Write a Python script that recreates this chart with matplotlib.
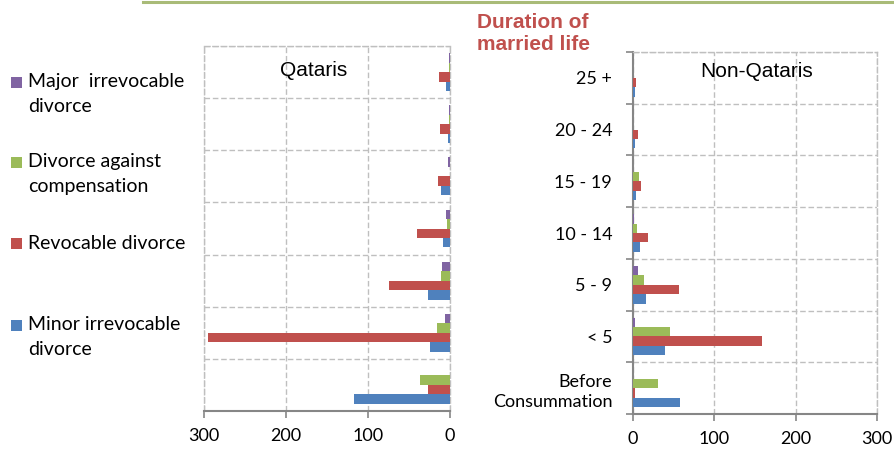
import matplotlib
matplotlib.use("Agg")
import matplotlib.pyplot as plt
from matplotlib.lines import Line2D
from matplotlib.patches import Rectangle
import numpy as np

categories = ["Before\nConsummation", "< 5", "5 - 9", "10 - 14", "15 - 19", "20 - 24", "25 +"]
series_names = ["Minor irrevocable\ndivorce", "Revocable divorce",
                "Divorce against\ncompensation", "Major  irrevocable\ndivorce"]
colors = ["#4F81BD", "#C0504D", "#9BBB59", "#8064A2"]

# Qataris
q_minor = [117, 24, 27, 9, 11, 3, 5]
q_revocable = [27, 295, 75, 40, 15, 12, 13]
q_compensation = [37, 16, 11, 4, 0.6, 1, 1]
q_major = [0, 6, 10, 5, 2, 1, 1]

# Non-Qataris
n_minor = [58, 39, 16, 9, 4, 2.5, 2]
n_revocable = [3, 158, 57, 19, 10, 6, 4]
n_compensation = [31, 45, 13, 4.5, 7, 0.5, 0.5]
n_major = [0, 2.5, 6, 1.5, 0.3, 0.3, 0.3]

qat = [q_minor, q_revocable, q_compensation, q_major]
non = [n_minor, n_revocable, n_compensation, n_major]

FONT = "Lato"
plt.rcParams["font.family"] = [FONT, "DejaVu Sans"]

fig = plt.figure(figsize=(8.94, 4.49), dpi=100)
W, H = 894, 449

def px_axes(l, t, r, b):
    return fig.add_axes([l / W, (H - b) / H, (r - l) / W, (b - t) / H])

axL = px_axes(204, 46, 450, 411)
axR = px_axes(633, 52, 877, 414)

grid_color = "#BFBFBF"
axis_color = "#868686"
dash = (0, (4, 2))
y = np.arange(len(categories))
h = 1 / 5.5
offsets = [-1.5 * h, -0.5 * h, 0.5 * h, 1.5 * h]

for ax, data in ((axL, qat), (axR, non)):
    for vals, off, c in zip(data, offsets, colors):
        ax.barh(y + off, vals, height=h, color=c, edgecolor="none", zorder=3)
    ax.set_ylim(-0.5, len(categories) - 0.5)
    ax.set_xticks([0, 100, 200, 300])
    ax.set_yticks(np.arange(-0.5, len(categories), 1.0))
    ax.set_yticks(y, minor=True)
    ax.grid(True, which="major", color=grid_color, linestyle=dash, linewidth=1.0, zorder=0)
    for s in ("top", "left", "right"):
        ax.spines[s].set_color(grid_color)
        ax.spines[s].set_linestyle(dash)
        ax.spines[s].set_linewidth(1.0)
    ax.spines["bottom"].set_color(axis_color)
    ax.spines["bottom"].set_linewidth(1.5)
    ax.tick_params(axis="x", direction="out", length=5, width=1.2, color=axis_color,
                   labelsize=13, pad=7)
    for lab in ax.get_xticklabels():
        lab.set_fontfamily(FONT)

axL.set_xlim(300, 0)
axR.set_xlim(0, 300)

axL.tick_params(axis="y", which="both", length=0, labelleft=False)
axR.spines["left"].set_color(axis_color)
axR.spines["left"].set_linestyle("-")
axR.spines["left"].set_linewidth(1.5)
axR.tick_params(axis="y", which="major", direction="out", length=5, width=1.2,
                color=axis_color, labelleft=False)
axR.tick_params(axis="y", which="minor", length=0, labelsize=13, pad=15)
axR.set_yticklabels(categories, minor=True, ha="right", fontfamily=FONT, linespacing=1.3)

axL.text(0.447, 0.934, "Qataris", transform=axL.transAxes, ha="center", va="center",
         fontsize=15, fontfamily="Liberation Sans")
axR.text(0.508, 0.945, "Non-Qataris", transform=axR.transAxes, ha="center", va="center",
         fontsize=15, fontfamily="Liberation Sans")

fig.text(477 / W, 1 - 23 / H, "Duration of", ha="left", va="center", fontsize=15,
         fontweight="bold", color="#C0504D", fontfamily="Liberation Sans")
fig.text(477 / W, 1 - 45 / H, "married life", ha="left", va="center", fontsize=15,
         fontweight="bold", color="#C0504D", fontfamily="Liberation Sans")

# top rule
fig.add_artist(Line2D([143 / W, 1.0], [1 - 1.5 / H, 1 - 1.5 / H], color="#A9BB78",
                      linewidth=2.2, transform=fig.transFigure))

# legend (Major on top)
leg_y = [82, 162, 243, 325]
for name, c, yy in zip(series_names[::-1], colors[::-1], leg_y):
    fig.add_artist(Rectangle((11 / W, 1 - (yy + 6) / H), 11 / W, 11 / H,
                             facecolor=c, edgecolor="none", transform=fig.transFigure))
    for i, line in enumerate(name.split("\n")):
        fig.text(28 / W, 1 - (yy + 24.5 * i) / H, line, ha="left", va="center",
                 fontsize=14, fontfamily=FONT)

fig.savefig("out.png", dpi=100)
